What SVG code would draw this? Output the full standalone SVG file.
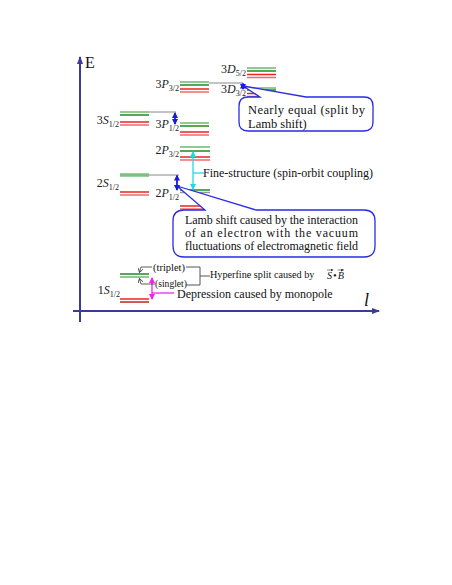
<svg xmlns="http://www.w3.org/2000/svg" width="452" height="585" viewBox="0 0 452 585">
<defs>
<style>
.lbl{font-family:"Liberation Serif","DejaVu Serif",serif;font-size:12px;fill:#222}
.sub{font-size:8px}
.txt{font-family:"Liberation Serif","DejaVu Serif",serif;font-size:12px;fill:#111}
.t13{font-size:12.5px}
.t10{font-size:10.2px}
.t11{font-size:11px}
.lg{stroke:#6fb86f;stroke-width:1.5}
.dg{stroke:#1f8a1f;stroke-width:1.5}
.rd{stroke:#ee2222;stroke-width:1.5}
.lr{stroke:#f06a6a;stroke-width:1.5}
.grey{stroke:#888;stroke-width:1;fill:none}
.callout{fill:#fff;stroke:#2a2ae8;stroke-width:1.3}
</style>
<marker id="ax" markerWidth="8" markerHeight="8" refX="7" refY="4" orient="auto" markerUnits="userSpaceOnUse"><path d="M0,1 L8,4 L0,7 Z" fill="#3a3a9a"/></marker>
<marker id="bl" markerWidth="6" markerHeight="6" refX="5" refY="3" orient="auto-start-reverse" markerUnits="userSpaceOnUse"><path d="M0,0 L6,3 L0,6 Z" fill="#1a1ae0"/></marker>
<marker id="cy" markerWidth="6" markerHeight="6" refX="5" refY="3" orient="auto-start-reverse" markerUnits="userSpaceOnUse"><path d="M0,0 L6,3 L0,6 Z" fill="#22d8e8"/></marker>
<marker id="mg" markerWidth="6" markerHeight="6" refX="5" refY="3" orient="auto-start-reverse" markerUnits="userSpaceOnUse"><path d="M0,0 L6,3 L0,6 Z" fill="#ee22ee"/></marker>
<marker id="bk" markerWidth="5" markerHeight="5" refX="4" refY="2.5" orient="auto" markerUnits="userSpaceOnUse"><path d="M0,0 L4,2.5 L0,5" fill="none" stroke="#333" stroke-width="0.8"/></marker>
<marker id="vec" markerWidth="3" markerHeight="3" refX="2.5" refY="1.5" orient="auto" markerUnits="userSpaceOnUse"><path d="M0,0 L3,1.5 L0,3 Z" fill="#333"/></marker>
</defs>
<rect width="452" height="585" fill="#fff"/>

<g id="axes">
<line x1="80" y1="322" x2="80" y2="57" stroke="#3a3a9a" stroke-width="2" marker-end="url(#ax)"/>
<line x1="73" y1="311" x2="379" y2="311" stroke="#3a3a9a" stroke-width="2" marker-end="url(#ax)"/>
<text x="85" y="68" font-family="Liberation Serif, serif" font-size="16" fill="#111">E</text>
<text x="364" y="306" font-family="Liberation Serif, serif" font-size="18" font-style="italic" fill="#111">l</text>
</g>

<g id="level-3S12">
<line x1="120" y1="112" x2="149" y2="112" class="lg"/>
<line x1="120" y1="115" x2="149" y2="115" class="dg"/>
<line x1="120" y1="122" x2="149" y2="122" class="rd"/>
<line x1="120" y1="125" x2="149" y2="125" class="lr"/>
<text x="119" y="124" text-anchor="end" class="lbl">3<tspan font-style="italic">S</tspan><tspan class="sub" dy="3">1/2</tspan></text>
</g>

<g id="level-3P32">
<line x1="180" y1="82" x2="209" y2="82" class="lg"/>
<line x1="180" y1="85" x2="209" y2="85" class="dg"/>
<line x1="180" y1="89" x2="209" y2="89" class="rd"/>
<line x1="180" y1="92" x2="209" y2="92" class="lr"/>
<text x="179" y="88" text-anchor="end" class="lbl">3<tspan font-style="italic">P</tspan><tspan class="sub" dy="3">3/2</tspan></text>
</g>

<g id="level-3P12">
<line x1="180" y1="123" x2="209" y2="123" class="lg"/>
<line x1="180" y1="126" x2="209" y2="126" class="dg"/>
<line x1="180" y1="132" x2="209" y2="132" class="rd"/>
<line x1="180" y1="135" x2="209" y2="135" class="lr"/>
<text x="179" y="128" text-anchor="end" class="lbl">3<tspan font-style="italic">P</tspan><tspan class="sub" dy="3">1/2</tspan></text>
</g>

<g id="level-3D52">
<line x1="247" y1="68" x2="276" y2="68" class="lg"/>
<line x1="247" y1="71" x2="276" y2="71" class="dg"/>
<line x1="247" y1="74.5" x2="276" y2="74.5" class="rd"/>
<line x1="247" y1="77.5" x2="276" y2="77.5" class="lr"/>
<text x="246" y="73" text-anchor="end" class="lbl">3<tspan font-style="italic">D</tspan><tspan class="sub" dy="3">5/2</tspan></text>
</g>

<g id="level-3D32">
<line x1="247" y1="88" x2="276" y2="88" class="lg"/>
<line x1="247" y1="90" x2="276" y2="90" class="dg"/>
<line x1="247" y1="93.5" x2="276" y2="93.5" class="rd"/>
<line x1="247" y1="96.5" x2="276" y2="96.5" class="lr"/>
<text x="246" y="93" text-anchor="end" class="lbl">3<tspan font-style="italic">D</tspan><tspan class="sub" dy="3">3/2</tspan></text>
</g>

<g id="level-2P32">
<line x1="180" y1="147" x2="210" y2="147" class="lg"/>
<line x1="180" y1="151" x2="210" y2="151" class="dg"/>
<line x1="180" y1="157" x2="210" y2="157" class="rd"/>
<line x1="180" y1="160" x2="210" y2="160" class="lr"/>
<text x="179" y="154" text-anchor="end" class="lbl">2<tspan font-style="italic">P</tspan><tspan class="sub" dy="3">3/2</tspan></text>
</g>

<g id="level-2S12">
<line x1="120" y1="175" x2="149" y2="175" stroke="#7fbf7f" stroke-width="3.5"/>
<line x1="120" y1="192" x2="149" y2="192" class="rd"/>
<line x1="120" y1="195" x2="149" y2="195" class="lr"/>
<text x="119" y="187" text-anchor="end" class="lbl">2<tspan font-style="italic">S</tspan><tspan class="sub" dy="3">1/2</tspan></text>
</g>

<g id="level-2P12">
<line x1="180" y1="190" x2="210" y2="190" class="dg"/>
<line x1="180" y1="192.5" x2="210" y2="192.5" stroke="#999" stroke-width="1.5"/>
<line x1="180" y1="206" x2="210" y2="206" class="rd"/>
<line x1="180" y1="209" x2="210" y2="209" class="lr"/>
<text x="179" y="197" text-anchor="end" class="lbl">2<tspan font-style="italic">P</tspan><tspan class="sub" dy="3">1/2</tspan></text>
</g>

<g id="level-1S12">
<line x1="120" y1="274" x2="149" y2="274" class="dg"/>
<line x1="120" y1="277" x2="149" y2="277" class="lg"/>
<line x1="120" y1="299" x2="149" y2="299" class="rd"/>
<line x1="120" y1="302" x2="149" y2="302" stroke="#c02020" stroke-width="1.5"/>
<text x="120" y="294" text-anchor="end" class="lbl">1<tspan font-style="italic">S</tspan><tspan class="sub" dy="3">1/2</tspan></text>
</g>

<g id="callout-nearly-equal">
<path class="callout" d="M248,97 L260,97 L243,86 L306,97 L364,97 Q373,97 373,106 L373,122 Q373,131 364,131 L248,131 Q239,131 239,122 L239,106 Q239,97 248,97 Z"/>
<text x="248" y="114" class="txt t13" textLength="117" lengthAdjust="spacing">Nearly equal (split by</text>
<text x="248" y="128" class="txt t13">Lamb shift)</text>
</g>

<g id="callout-lamb">
<path class="callout" d="M184,210 L205,210 L177,186 L256,210 L364,210 Q375,210 375,221 L375,246 Q375,257 364,257 L184,257 Q173,257 173,246 L173,221 Q173,210 184,210 Z"/>
<text x="185" y="224" class="txt" textLength="173" lengthAdjust="spacing">Lamb shift caused by the interaction</text>
<text x="185" y="237" class="txt" textLength="173" lengthAdjust="spacing">of an electron with the vacuum</text>
<text x="185" y="250" class="txt" textLength="173" lengthAdjust="spacing">fluctuations of electromagnetic field</text>
</g>

<g id="label-fine-structure">
<text x="203" y="177" class="txt">Fine-structure (spin-orbit coupling)</text>
</g>

<g id="label-hyperfine">
<text x="153" y="271" class="txt t11" textLength="32" lengthAdjust="spacingAndGlyphs">(triplet)</text>
<text x="155" y="287" class="txt t11" textLength="32" lengthAdjust="spacingAndGlyphs">(singlet)</text>
<text x="210" y="278" class="txt t10">Hyperfine split caused by <tspan x="327" y="279" font-style="italic" letter-spacing="1">S•B</tspan></text>
<line x1="327" y1="270" x2="333" y2="270" stroke="#333" stroke-width="0.6" marker-end="url(#vec)"/>
<line x1="337.5" y1="270" x2="343.5" y2="270" stroke="#333" stroke-width="0.6" marker-end="url(#vec)"/>
</g>

<g id="label-depression">
<text x="177" y="298" class="txt">Depression caused by monopole</text>
</g>

<g id="connectors">
<line x1="149" y1="112" x2="176" y2="112" class="grey"/>
<line x1="209" y1="83" x2="243" y2="83" class="grey"/>
<line x1="149" y1="175" x2="179" y2="175" class="grey"/>
<line x1="175" y1="113" x2="175" y2="124" stroke="#1a1ae0" stroke-width="1.8" marker-start="url(#bl)" marker-end="url(#bl)"/>
<line x1="243" y1="83.5" x2="243" y2="89" stroke="#1a1ae0" stroke-width="1.5" marker-start="url(#bl)" marker-end="url(#bl)"/>
<line x1="177" y1="175.5" x2="177" y2="190" stroke="#1a1ae0" stroke-width="1.8" marker-start="url(#bl)" marker-end="url(#bl)"/>
<line x1="193" y1="152" x2="193" y2="189" stroke="#22d8e8" stroke-width="1.3" marker-start="url(#cy)" marker-end="url(#cy)"/>
<line x1="193" y1="173" x2="204" y2="173" stroke="#22d8e8" stroke-width="1.3"/>
<line x1="152" y1="278" x2="152" y2="299" stroke="#ee22ee" stroke-width="1.3" marker-start="url(#mg)" marker-end="url(#mg)"/>
<line x1="152" y1="293" x2="174" y2="293" stroke="#ee22ee" stroke-width="1.3"/>
<polyline points="152,267 141,267 139.5,272.5" fill="none" stroke="#333" stroke-width="0.8" marker-end="url(#bk)"/>
<polyline points="155,284 141,284 139.5,278.5" fill="none" stroke="#333" stroke-width="0.8" marker-end="url(#bk)"/>
<polyline points="186,267 200,267 200,285 186,285" fill="none" stroke="#555" stroke-width="1"/>
<line x1="200" y1="276" x2="210" y2="276" stroke="#555" stroke-width="1"/>
</g>
</svg>
